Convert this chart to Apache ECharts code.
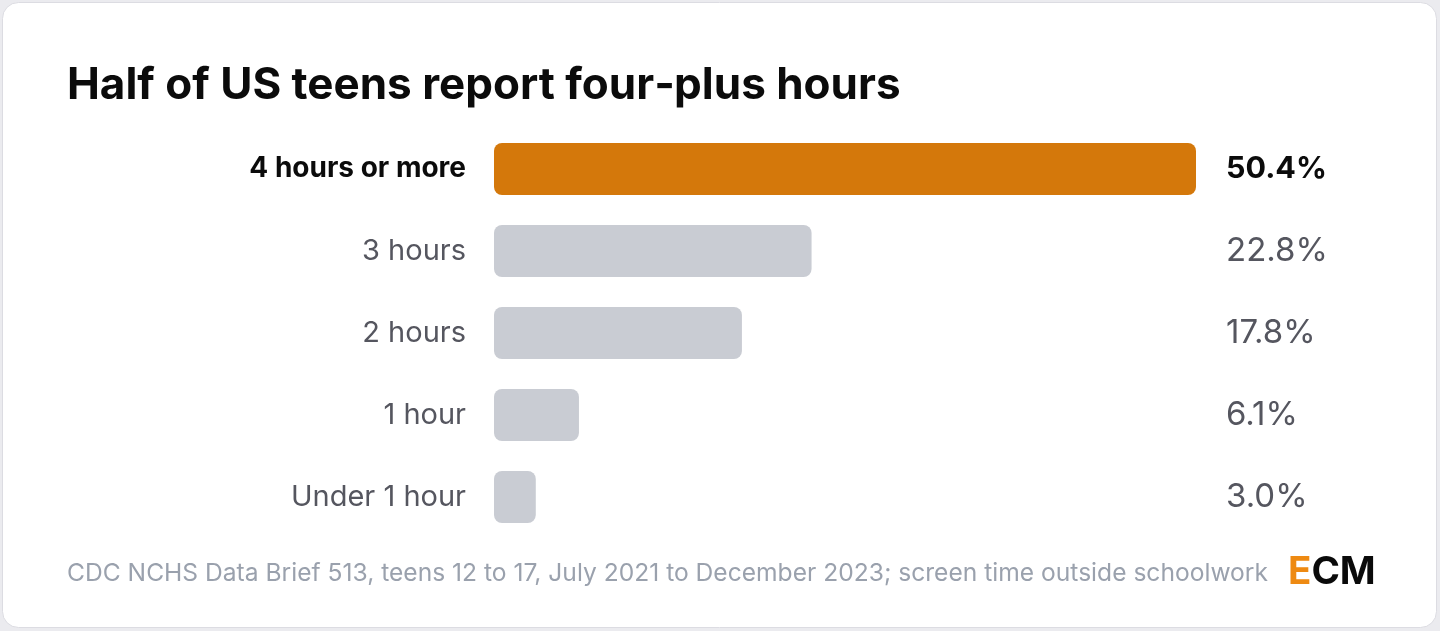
<!DOCTYPE html>
<html>
<head>
<meta charset="utf-8">
<script src="https://cdn.jsdelivr.net/npm/echarts@6/dist/echarts.min.js"></script>
<style>
html,body{margin:0;padding:0;background:#ebebef;}
#chart{width:1440px;height:631px;}
</style>
</head>
<body>
<div id="chart"></div>
<script>
const categories = ['4 hours or more', '3 hours', '2 hours', '1 hour', 'Under 1 hour'];
const values = [50.4, 22.8, 17.8, 6.1, 3.0];
const valueLabels = values.map(v => v.toFixed(1) + '%');
const titleText = 'Half of US teens report four\u2011plus hours';
const sourceText = 'CDC NCHS Data Brief 513, teens 12 to 17, July 2021 to December 2023; screen time outside schoolwork';

const FONT = 'Inter, "Noto Sans", sans-serif';
const chart = echarts.init(document.getElementById('chart'), null, {renderer: 'canvas'});

chart.setOption({
  backgroundColor: '#ebebef',
  animation: false,
  graphic: [
    {
      type: 'rect', z: -10,
      shape: {x: 2.5, y: 2.5, width: 1434, height: 625, r: 16},
      style: {fill: '#ffffff', stroke: '#dcdce2', lineWidth: 1}
    },
    {
      type: 'text', left: 67, top: 561,
      style: {text: sourceText, font: '400 24.6px ' + FONT, fill: '#9aa1ad'}
    },
    {
      type: 'text', left: 1288, top: 553,
      style: {
        text: '{e|E}{cm|CM}',
        rich: {
          e: {font: '700 38.5px ' + FONT, fill: '#ee8a12'},
          cm: {font: '700 38.5px ' + FONT, fill: '#0a0a0a'}
        }
      }
    }
  ],
  title: {
    text: titleText,
    left: 62, top: 59,
    textStyle: {fontFamily: FONT, fontWeight: 700, fontSize: 44, color: '#0b0b0b'}
  },
  grid: {left: 494, width: 702, top: 128, height: 410, containLabel: false},
  xAxis: {
    type: 'value', min: 0, max: 50.4, show: false
  },
  yAxis: [
    {
      type: 'category', data: categories, inverse: true,
      axisLine: {show: false}, axisTick: {show: false}, splitLine: {show: false},
      axisLabel: {
        margin: 28,
        formatter: (v, i) => i === 0 ? '{b|' + v + '}' : '{n|' + v + '}',
        rich: {
          b: {fontFamily: FONT, fontWeight: 700, fontSize: 28, color: '#0b0b0b'},
          n: {fontFamily: FONT, fontWeight: 400, fontSize: 29, color: '#55565f'}
        }
      }
    },
    {
      type: 'category', data: valueLabels, inverse: true, position: 'right',
      axisLine: {show: false}, axisTick: {show: false}, splitLine: {show: false},
      axisLabel: {
        margin: 30, align: 'left',
        formatter: (v, i) => i === 0 ? '{b|' + v + '}' : '{n|' + v + '}',
        rich: {
          b: {fontFamily: FONT, fontWeight: 700, fontSize: 30.5, color: '#0b0b0b'},
          n: {fontFamily: FONT, fontWeight: 400, fontSize: 33, color: '#55565f'}
        }
      }
    }
  ],
  series: [{
    type: 'bar',
    data: values.map((v, i) => ({
      value: v,
      itemStyle: {color: i === 0 ? '#d4780b' : '#c9ccd3'}
    })),
    barWidth: 52,
    itemStyle: {borderRadius: 8},
    silent: true
  }]
});
</script>
</body>
</html>
